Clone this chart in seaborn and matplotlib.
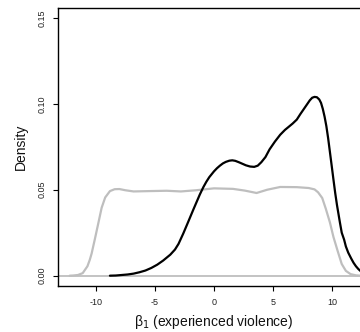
import numpy as np
import pandas as pd
import matplotlib
matplotlib.use("Agg")
import matplotlib.pyplot as plt
import seaborn as sns

# Posterior density (black)
post_x = [-8.8, -8.3, -7.8, -7.3, -6.8, -6.3, -5.8, -5.3, -4.8, -4.3, -3.7, -3.3, -3.0, -2.6, -2.2,
          -1.75, -1.45, -1.2, -0.9, -0.65, -0.4, 0.0, 0.25, 0.5, 0.75, 1.0, 1.3, 1.55, 1.8, 2.1,
          2.4, 2.7, 3.05, 3.4, 3.7, 4.0, 4.35, 4.7, 5.15, 5.6, 6.0, 6.3, 6.65, 7.0, 7.3, 7.6,
          7.85, 8.1, 8.3, 8.5, 8.7, 8.9, 9.05, 9.2, 9.35, 9.5, 9.65, 9.8, 9.95, 10.1, 10.25,
          10.4, 10.65, 10.8, 11.0, 11.15, 11.35, 11.6, 11.8, 12.0, 12.2, 12.5]
post_y = [0.0, 0.0001, 0.0004, 0.0007, 0.0012, 0.002, 0.003, 0.0045, 0.0064, 0.0088, 0.0122, 0.0152, 0.0185, 0.0245, 0.031,
          0.0384, 0.0432, 0.0472, 0.0515, 0.0546, 0.0573, 0.0607, 0.0625, 0.064, 0.0653, 0.0662, 0.0669, 0.0671, 0.0668, 0.066,
          0.0651, 0.0642, 0.0635, 0.0633, 0.064, 0.066, 0.069, 0.0735, 0.078, 0.082, 0.0848, 0.0865, 0.0885, 0.0908, 0.094, 0.097,
          0.0995, 0.102, 0.1035, 0.104, 0.1038, 0.1025, 0.1005, 0.097, 0.0925, 0.087, 0.080, 0.072, 0.064, 0.0559, 0.048,
          0.041, 0.0308, 0.025, 0.021, 0.017, 0.0134, 0.0100, 0.0075, 0.0055, 0.0039, 0.002]

# Prior density (gray)
prior_x = [-12.2, -11.9, -11.5, -11.1, -10.7, -10.5, -10.35, -10.05, -9.75, -9.5, -9.2, -8.8, -8.4, -8.0,
           -7.5, -6.8, -5.5, -4.0, -2.8, -1.5, 0.0, 1.6, 2.6, 3.6, 4.5, 5.6, 7.0, 8.0,
           8.5, 8.8, 9.15, 9.45, 9.8, 10.1, 10.45, 10.8, 11.15, 11.55, 12.0, 12.4]
prior_y = [0.0, 0.0001, 0.0004, 0.0015, 0.0055, 0.0093, 0.0128, 0.022, 0.0315, 0.0395, 0.0455, 0.0492, 0.0503, 0.0504,
           0.0497, 0.049, 0.0492, 0.0494, 0.049, 0.0497, 0.0508, 0.0505, 0.0495, 0.0481, 0.050, 0.0516, 0.0515, 0.051,
           0.0502, 0.0485, 0.0452, 0.039, 0.031, 0.0225, 0.0145, 0.0068, 0.0028, 0.0009, 0.0002, 0.0]

x_ticks = [-10, -5, 0, 5, 10]
y_ticks = [0.00, 0.05, 0.10, 0.15]
y_ticklabels = ["0.00", "0.05", "0.10", "0.15"]

sns.set_style("white")
plt.rcParams['font.family'] = ['Liberation Sans', 'DejaVu Sans']

fig = plt.figure(figsize=(3.6, 3.32), dpi=100)
W, H = 360, 332
left, right, top, bottom = 58, 370, 7.5, 286
ax = fig.add_axes([left / W, (H - bottom) / H, (right - left) / W, (bottom - top) / H])

ax.axhline(0, color="#bebebe", lw=1.3, zorder=1)
sns.lineplot(x=prior_x, y=prior_y, ax=ax, color="#bebebe", lw=1.6, sort=False, zorder=2)
sns.lineplot(x=post_x, y=post_y, ax=ax, color="black", lw=1.6, sort=False, zorder=3)

ax.set_xlim(-13.19, 13.19)
ax.set_ylim(-0.006, 0.156)
ax.set_xticks(x_ticks)
ax.set_xticklabels([str(t) for t in x_ticks])
ax.set_yticks(y_ticks)
ax.set_yticklabels(y_ticklabels)

for s in ["left", "top", "bottom"]:
    ax.spines[s].set_visible(True)
    ax.spines[s].set_color("black")
    ax.spines[s].set_linewidth(1.0)
ax.spines["right"].set_visible(False)

ax.tick_params(axis="both", which="both", direction="out", length=3.8, width=0.8,
               color="black", labelsize=6.5, labelcolor="#222222")
ax.tick_params(axis="x", pad=4.5, bottom=True)
ax.tick_params(axis="y", pad=4.5, left=True)
plt.setp(ax.get_yticklabels(), rotation=90, va="center")

ax.set_xlabel(r"β$_1$ (experienced violence)", fontsize=10, color="#111111")
ax.set_ylabel("Density", fontsize=10, color="#111111")
ax.xaxis.set_label_coords((214 - left) / (right - left), -(321.7 - bottom) / (bottom - top))
ax.yaxis.set_label_coords(-(left - 21) / (right - left), 0.5)
ax.xaxis.label.set_va("center")
ax.yaxis.label.set_va("center")

fig.savefig("out.png", dpi=100)
